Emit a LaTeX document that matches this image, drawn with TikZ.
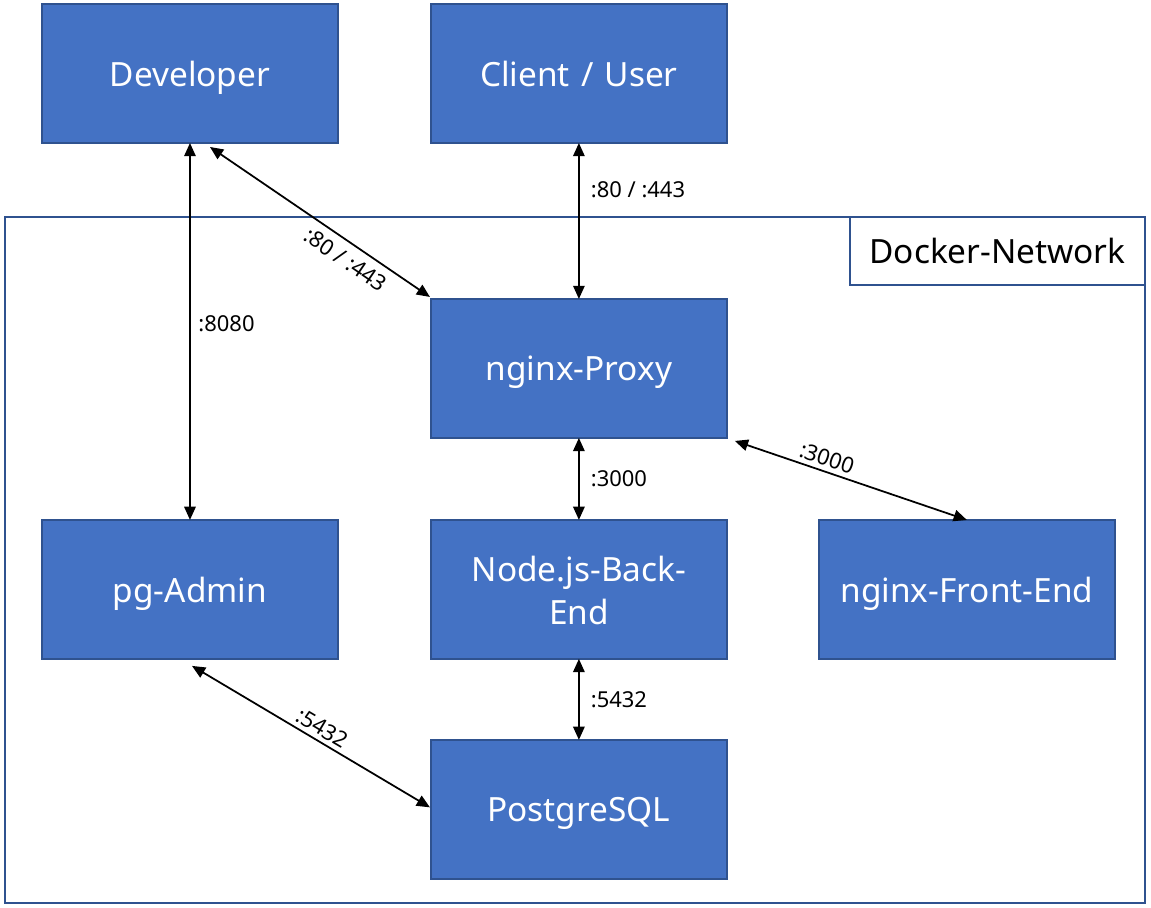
\documentclass[tikz,border=0pt]{standalone}
\usepackage{fontspec}
\setmainfont{Noto Sans}
\usepackage{xcolor}
\usetikzlibrary{calc,positioning,arrows.meta,backgrounds}

\definecolor{boxblue}{HTML}{4472C4}
\definecolor{boxline}{HTML}{2F528F}

\begin{document}
\begin{tikzpicture}[x=0.02cm, y=-0.02cm, align=center,
    service/.style={draw=boxline, line width=1pt, fill=boxblue, text=white,
        minimum width=5.92cm, minimum height=2.78cm, outer sep=0pt, text depth=0pt,
        text width=5.4cm, font=\fontsize{19}{24}\selectfont},
    link/.style={{Triangle[length=7.5pt,width=6.5pt]}-{Triangle[length=7.5pt,width=6.5pt]}, line width=1pt},
    port/.style={font=\fontsize{12.5}{15}\selectfont}]
    \useasboundingbox (0,0) rectangle (1151,907);

    \node [service, anchor=north west] (dev) at (42,4) {Developer};
    \node [service, right=1.86cm of dev] (client) {Client / User};
    \node [service, below=3.12cm of client] (proxy) {nginx-Proxy};
    \node [service, below=1.64cm of proxy, text depth=23pt] (backend) {Node.js-Back-\\End};
    \node [service, left=1.86cm of backend] (pgadmin) {pg-Admin};
    \node [service, right=1.84cm of backend] (frontend) {nginx-Front-End};
    \node [service, below=1.62cm of backend] (postgres) {PostgreSQL};

    \begin{scope}[on background layer]
        \draw[boxline, line width=1pt] (5,217) rectangle (1145,903);
        \node [draw=boxline, line width=1pt, fill=white, anchor=north east,
            minimum width=5.9cm, minimum height=1.36cm, outer sep=0pt, text depth=0pt,
            font=\fontsize{19}{24}\selectfont] (docker) at (1145,217) {Docker-Network};
    \end{scope}

    \draw[link] (dev) -- node[port, right=1pt, pos=0.48] {:8080} (pgadmin);
    \draw[link] ($(dev.south)+(20,4)$) -- node[port, sloped, below=1pt, pos=0.66] {:80 / :443} ($(proxy.north west)+(-1,-2)$);
    \draw[link] (client) -- node[port, right=3pt, pos=0.3] {:80 / :443} (proxy);
    \draw[link] (proxy) -- node[port, right=3pt] {:3000} (backend);
    \draw[link] ($(proxy.south east)+(8,3)$) -- node[port, sloped, above=-1pt, pos=0.38] {:3000} (frontend.north);
    \draw[link] (backend) -- node[port, right=3pt] {:5432} (postgres);
    \draw[link] ($(pgadmin.south)+(2,7)$) -- node[port, sloped, above=-1pt, pos=0.52] {:5432} ($(postgres.west)+(-1,-2)$);

\end{tikzpicture}
\end{document}
